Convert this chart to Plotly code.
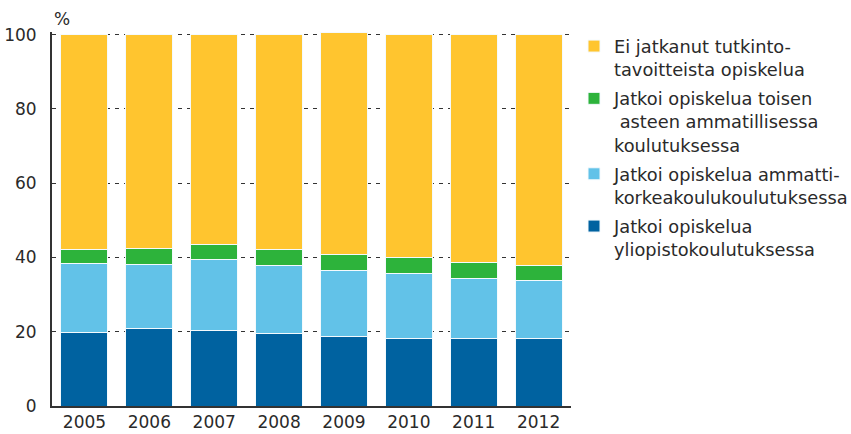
import plotly.graph_objects as go

years = ["2005", "2006", "2007", "2008", "2009", "2010", "2011", "2012"]
yliopisto = [19.9, 20.8, 20.4, 19.5, 18.7, 18.2, 18.2, 18.2]
amk = [18.4, 17.4, 19.1, 18.3, 17.8, 17.4, 16.1, 15.6]
toinen_aste = [3.9, 4.3, 3.9, 4.4, 4.4, 4.4, 4.3, 4.0]
ei_jatkanut = [57.8, 57.5, 56.6, 57.8, 59.7, 60.0, 61.4, 62.2]

names = [
    "Jatkoi opiskelua<br>yliopistokoulutuksessa",
    "Jatkoi opiskelua ammatti-<br>korkeakoulukoulutuksessa",
    "Jatkoi opiskelua toisen<br> asteen ammatillisessa<br>koulutuksessa",
    "Ei jatkanut tutkinto-<br>tavoitteista opiskelua",
]
colors = ["#0062A0", "#62C2E8", "#2DB33B", "#FFC52F"]
series = [yliopisto, amk, toinen_aste, ei_jatkanut]

FONT = "DejaVu Sans"

fig = go.Figure()
for i, (name, vals, col) in enumerate(zip(names, series, colors)):
    fig.add_trace(go.Bar(
        x=years, y=vals, name=name, legendgroup=f"g{i}",
        legendrank=len(names) - i,
        marker=dict(color=col, line=dict(color="#F4FAFD", width=1)),
    ))

W, H = 851, 434
ml, mr, mt, mb = 52, 280, 32, 28
ph = H - mt - mb

fig.update_layout(
    width=W, height=H,
    barmode="stack",
    bargap=0.275,
    plot_bgcolor="white", paper_bgcolor="white",
    margin=dict(l=ml, r=mr, t=mt, b=mb, pad=0, autoexpand=False),
    font=dict(family=FONT, size=17, color="#2a2a2a"),
    showlegend=True,
    legend=dict(
        traceorder="grouped",
        xref="container", yref="container",
        x=574 / W, xanchor="left",
        y=1 - 28 / H, yanchor="top",
        valign="top",
        maxheight=400,
        font=dict(family=FONT, size=17.8, color="#2a2a2a"),
        tracegroupgap=3,
        bgcolor="rgba(0,0,0,0)",
    ),
    xaxis=dict(
        automargin=False,
        showline=True, linecolor="#333333", linewidth=2,
        ticks="", showgrid=False,
        tickfont=dict(family=FONT, size=17),
    ),
    yaxis=dict(
        automargin=False,
        range=[0, 100.7],
        tickvals=[0, 20, 40, 60, 80, 100],
        showline=True, linecolor="#333333", linewidth=2,
        ticks="", showgrid=True, gridcolor="#333333", gridwidth=1.2,
        griddash="4px,5px",
        zeroline=False,
        ticklabelstandoff=10,
        tickfont=dict(family=FONT, size=17),
    ),
)

fig.add_annotation(
    text="%", xref="paper", yref="paper",
    x=(62 - ml) / (W - ml - mr), y=(H - mb - 19) / ph,
    showarrow=False, xanchor="center", yanchor="middle",
    font=dict(family=FONT, size=17, color="#2a2a2a"),
)

fig.write_html("out.html", config={"displayModeBar": False},
               post_script="document.body.style.margin='0';")
